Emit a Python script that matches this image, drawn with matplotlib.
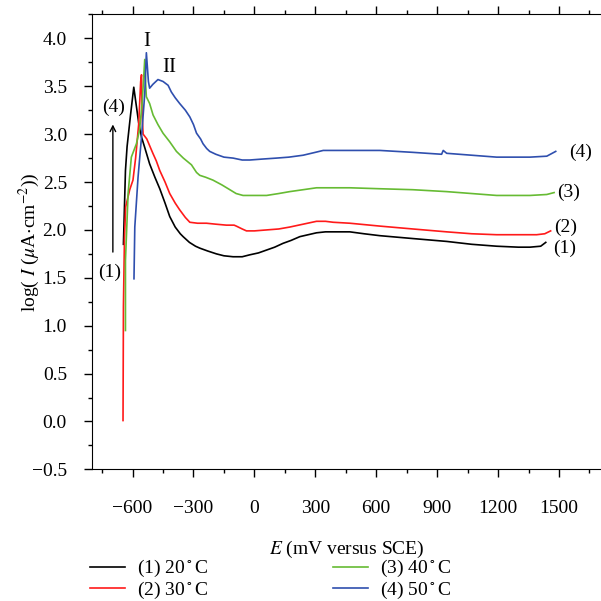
import matplotlib
matplotlib.use('Agg')
import matplotlib.pyplot as plt
from matplotlib.ticker import MultipleLocator

plt.rcParams['font.family'] = ['Liberation Serif']
plt.rcParams['mathtext.fontset'] = 'stix'

# (1) 20 C
e1 = [-645, -635, -627, -610, -594, -585, -570, -556, -540, -516, -490, -466, -440,
      -417, -390, -365, -351, -320, -290, -269, -230, -187, -150, -105, -60, -23, 20,
      60, 100, 141, 180, 224, 265, 306, 350, 388, 430, 470, 540, 618, 780, 947, 1070,
      1193, 1300, 1357, 1410, 1435]
i1 = [1.85, 2.62, 2.87, 3.2, 3.49, 3.35, 3.12, 2.97, 2.86, 2.69, 2.55, 2.43, 2.28,
      2.14, 2.03, 1.96, 1.93, 1.87, 1.83, 1.81, 1.78, 1.75, 1.73, 1.72, 1.72, 1.74, 1.76,
      1.79, 1.82, 1.86, 1.89, 1.93, 1.95, 1.97, 1.98, 1.98, 1.98, 1.98, 1.96, 1.94, 1.91,
      1.88, 1.85, 1.83, 1.82, 1.82, 1.83, 1.87]
# (2) 30 C
e2 = [-647, -645, -640, -634, -614, -598, -585, -570, -560, -556, -553, -548, -530,
      -516, -500, -483, -466, -440, -417, -390, -368, -340, -318, -280, -236, -190, -138,
      -100, -89, -60, -39, 0, 60, 120, 174, 240, 306, 350, 388, 470, 618, 780, 947, 1070,
      1193, 1300, 1390, 1430, 1459]
i2 = [0.01, 1.2, 1.9, 2.24, 2.42, 2.52, 2.75, 3.1, 3.55, 3.62, 3.2, 3.0, 2.95,
      2.88, 2.80, 2.72, 2.62, 2.50, 2.38, 2.28, 2.21, 2.13, 2.08, 2.07, 2.07, 2.06, 2.05,
      2.05, 2.04, 2.01, 1.99, 1.99, 2.0, 2.01, 2.03, 2.06, 2.09, 2.09, 2.08, 2.07, 2.04,
      2.01, 1.98, 1.96, 1.95, 1.95, 1.95, 1.96, 1.99]
# (3) 40 C
e3 = [-635, -635, -622, -606, -581, -565, -552, -545, -540, -535, -532, -516, -499,
      -475, -450, -417, -384, -350, -310, -285, -269, -240, -204, -160, -121, -90, -56,
      0, 60, 120, 174, 240, 306, 400, 470, 618, 780, 947, 1070, 1193, 1357, 1440, 1476]
i3 = [0.95, 1.68, 2.38, 2.76, 2.90, 3.05, 3.35, 3.6, 3.78, 3.5, 3.39, 3.32, 3.20,
      3.10, 3.01, 2.92, 2.82, 2.75, 2.68, 2.60, 2.57, 2.55, 2.52, 2.47, 2.42, 2.38, 2.36,
      2.36, 2.36, 2.38, 2.40, 2.42, 2.44, 2.44, 2.44, 2.43, 2.42, 2.40, 2.38, 2.36, 2.36,
      2.37, 2.39]
# (4) 50 C
e4 = [-593, -589, -573, -556, -540, -532, -522, -516, -500, -475, -450, -425, -409,
      -390, -368, -340, -318, -300, -285, -265, -253, -235, -220, -190, -150, -105, -60,
      -23, 40, 109, 170, 240, 300, 339, 400, 470, 618, 780, 922, 930, 947, 1070, 1193,
      1357, 1440, 1484]
i4 = [1.49, 2.03, 2.55, 2.97, 3.42, 3.85, 3.55, 3.48, 3.52, 3.57, 3.55, 3.51, 3.44,
      3.38, 3.32, 3.25, 3.18, 3.10, 3.01, 2.95, 2.90, 2.85, 2.82, 2.79, 2.76, 2.75, 2.73,
      2.73, 2.74, 2.75, 2.76, 2.78, 2.81, 2.83, 2.83, 2.83, 2.83, 2.81, 2.79, 2.83, 2.80,
      2.78, 2.76, 2.76, 2.77, 2.82]

names = ['(1) 20$^\\circ$C', '(2) 30$^\\circ$C', '(3) 40$^\\circ$C', '(4) 50$^\\circ$C']
colors = ['#000000', '#ff1a1a', '#66bb33', '#2f4fae']

FS = 14

fig = plt.figure(figsize=(6.01, 6.01), dpi=100)
ax = fig.add_axes([0.153, 0.219, 0.847, 0.757])

for e, i, n, c in zip([e1, e2, e3, e4], [i1, i2, i3, i4], names, colors):
    ax.plot(e, i, color=c, lw=1.2, label=n)

ax.set_xlim(-800, 1707)
ax.set_ylim(-0.5, 4.25)
ax.xaxis.set_minor_locator(MultipleLocator(150))
ax.yaxis.set_major_locator(MultipleLocator(0.5))
ax.yaxis.set_minor_locator(MultipleLocator(0.25))
ax.set_xticks(range(-600, 1501, 300))
ax.set_xticklabels(['\u2212600', '\u2212300', '0', '300', '600', '900', '1200', '1500'])
ax.yaxis.set_major_formatter(plt.FuncFormatter(lambda v, p: ('%.1f' % v).replace('-', '\u2212')))
ax.spines['right'].set_visible(False)
ax.tick_params(which='both', direction='out', top=True, right=False, labelsize=FS)
ax.tick_params(axis='x', which='major', length=6, width=1, pad=16)
ax.tick_params(axis='y', which='major', length=6, width=1, pad=12)
ax.tick_params(which='minor', length=3, width=1)

ax.set_xlabel('$E$ (mV versus SCE)', fontsize=FS, labelpad=16)
ax.set_ylabel('log( $I$ ($\\mu$A$\\cdot$cm$^{-2}$))', fontsize=FS, labelpad=-7)

# annotations
ax.text(-532, 3.97, 'I', fontsize=FS + 1, ha='center', va='center')
ax.text(-420, 3.70, 'II', fontsize=FS + 1, ha='center', va='center')
ax.text(-693, 3.28, '(4)', fontsize=FS, ha='center', va='center')
ax.text(-712, 1.56, '(1)', fontsize=FS, ha='center', va='center')
ax.annotate('', xy=(-697, 3.13), xytext=(-697, 1.74),
            arrowprops=dict(arrowstyle='->', color='black', lw=1))
ax.text(1604, 2.81, '(4)', fontsize=FS, ha='center', va='center')
ax.text(1548, 2.39, '(3)', fontsize=FS, ha='center', va='center')
ax.text(1532, 2.03, '(2)', fontsize=FS, ha='center', va='center')
ax.text(1530, 1.81, '(1)', fontsize=FS, ha='center', va='center')

fig.legend(loc='upper left', bbox_to_anchor=(0.15, 0.071), ncol=2, frameon=False,
           fontsize=FS, handlelength=1.8, handletextpad=0.6, columnspacing=6.45,
           labelspacing=0.0, borderaxespad=0, borderpad=0)

fig.savefig('out.png', dpi=100)
